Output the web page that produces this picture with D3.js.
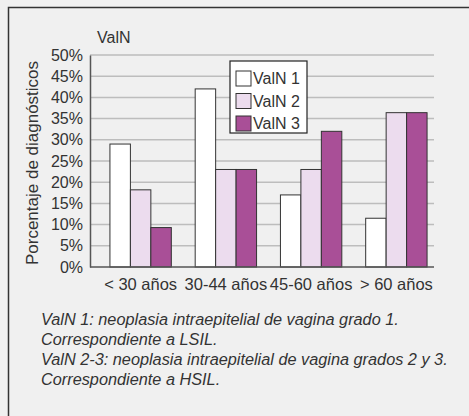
<!DOCTYPE html>
<html>
<head>
<meta charset="utf-8">
<script src="https://cdn.jsdelivr.net/npm/d3@7"></script>
<style>
  html, body { margin: 0; padding: 0; background: #f0f0f0; }
  svg text { font-family: "Liberation Sans", Arial, sans-serif; fill: #333; }
</style>
</head>
<body>
<svg id="chart" width="469" height="416"></svg>
<script>
const categories = ['< 30 años', '30-44 años', '45-60 años', '> 60 años'];
const seriesNames = ['ValN 1', 'ValN 2', 'ValN 3'];
const valn1 = [29, 42, 17, 11.5];
const valn2 = [18.2, 23, 23, 36.4];
const valn3 = [9.3, 23, 32, 36.4];
const yTicks = [0, 5, 10, 15, 20, 25, 30, 35, 40, 45, 50];
const colors = ['#ffffff', '#ecdcee', '#a94f97'];
const notes = [
  'ValN 1: neoplasia intraepitelial de vagina grado 1.',
  'Correspondiente a LSIL.',
  'ValN 2-3: neoplasia intraepitelial de vagina grados 2 y 3.',
  'Correspondiente a HSIL.'
];

const series = [valn1, valn2, valn3];
const svg = d3.select('#chart');

// panel frame (top and left edges only visible)
svg.append('path')
  .attr('d', 'M8.5,416 V7.5 H469')
  .attr('fill', 'none')
  .attr('stroke', '#333')
  .attr('stroke-width', 1.5);

const plotLeft = 90, plotRight = 434, plotTop = 55, plotBottom = 267;
const y = d3.scaleLinear().domain([0, 50]).range([plotBottom, plotTop]);
const x0 = d3.scaleBand().domain(categories).range([98, 439]).paddingInner(0.28).paddingOuter(0.14);
const x1 = d3.scaleBand().domain(seriesNames).range([0, x0.bandwidth()]);

// gridlines
svg.append('g').selectAll('line')
  .data(yTicks.slice(1))
  .enter()
  .append('line')
  .attr('x1', plotLeft)
  .attr('x2', plotRight)
  .attr('y1', d => y(d))
  .attr('y2', d => y(d))
  .attr('stroke', '#bdbdbd')
  .attr('stroke-width', 1.5);

// bars
const groups = svg.append('g').selectAll('g')
  .data(categories)
  .enter()
  .append('g')
  .attr('transform', d => `translate(${x0(d)},0)`);
groups.selectAll('rect')
  .data((c, i) => series.map((s, j) => ({ name: seriesNames[j], value: s[i], color: colors[j] })))
  .enter()
  .append('rect')
  .attr('x', d => x1(d.name))
  .attr('y', d => y(d.value))
  .attr('width', x1.bandwidth())
  .attr('height', d => plotBottom - y(d.value))
  .attr('fill', d => d.color)
  .attr('stroke', '#333')
  .attr('stroke-width', 1);

// axes
const yAxis = svg.append('g')
  .attr('transform', `translate(${plotLeft},0)`)
  .call(d3.axisLeft(y).tickValues(yTicks).tickSize(0).tickPadding(7).tickFormat(d => d + '%'));
yAxis.select('.domain').attr('stroke', '#555').attr('stroke-width', 1.5);
yAxis.selectAll('text').style('font-size', '16px').attr('fill', '#333').attr('font-family', null);

svg.append('line')
  .attr('x1', plotLeft).attr('x2', plotRight)
  .attr('y1', plotBottom).attr('y2', plotBottom)
  .attr('stroke', '#555').attr('stroke-width', 1.5);

svg.append('g').selectAll('text')
  .data(categories)
  .enter()
  .append('text')
  .attr('x', d => x0(d) + x0.bandwidth() / 2)
  .attr('y', 290)
  .attr('text-anchor', 'middle')
  .style('font-size', '16.5px')
  .text(d => d);

// titles
svg.append('text')
  .attr('x', 97)
  .attr('y', 43)
  .style('font-size', '16px')
  .text('ValN');

svg.append('text')
  .attr('transform', `translate(38,${(plotTop + plotBottom) / 2 + 2}) rotate(-90)`)
  .attr('text-anchor', 'middle')
  .style('font-size', '17px')
  .text('Porcentaje de diagnósticos');

// legend
const legend = svg.append('g').attr('transform', 'translate(230,61)');
legend.append('rect')
  .attr('width', 77).attr('height', 72)
  .attr('fill', '#fff').attr('stroke', '#222').attr('stroke-width', 1.2);
const items = legend.selectAll('g.item')
  .data(seriesNames)
  .enter()
  .append('g')
  .attr('class', 'item')
  .attr('transform', (d, i) => `translate(6,${10 + i * 22.5})`);
items.append('rect')
  .attr('width', 15).attr('height', 15)
  .attr('fill', (d, i) => colors[i])
  .attr('stroke', '#333');
items.append('text')
  .attr('x', 17)
  .attr('y', 13)
  .style('font-size', '16px')
  .text(d => d);

// footnotes
svg.append('g').selectAll('text')
  .data(notes)
  .enter()
  .append('text')
  .attr('x', 41)
  .attr('y', (d, i) => 325 + i * 20)
  .style('font-size', '16.3px')
  .style('font-style', 'italic')
  .attr('fill', '#222')
  .text(d => d);
</script>
</body>
</html>
